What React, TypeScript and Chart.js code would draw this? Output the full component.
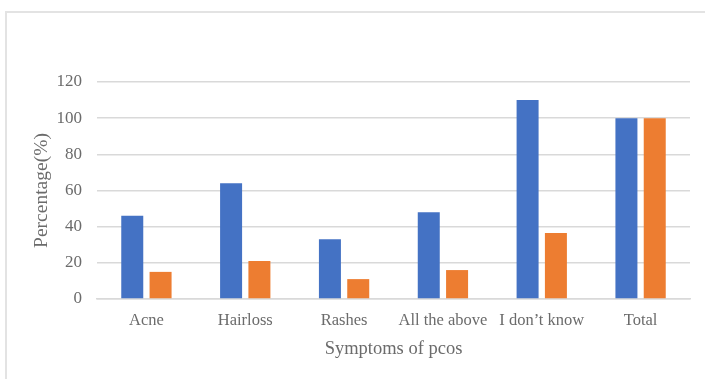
import React, { useEffect, useRef } from "react";
import { Chart, registerables } from "chart.js";

Chart.register(...registerables);

// Symptom categories and the two percentage series
const categories = ["Acne", "Hairloss", "Rashes", "All the above", "I don\u2019t know", "Total"];
const seriesA = [46, 64, 33, 48, 110, 100];
const seriesB = [15, 21, 11, 16, 36.5, 100];
const yTicks = [0, 20, 40, 60, 80, 100, 120];

const TEXT = "#6b6b6b";
const GRID = "#d9d9d9";
const FONT = "'Liberation Serif', 'DejaVu Serif', serif";

export default function App() {
  const ref = useRef<HTMLCanvasElement | null>(null);

  useEffect(() => {
    if (!ref.current) return;
    const chart = new Chart(ref.current, {
      type: "bar",
      data: {
        labels: categories,
        datasets: [
          { data: seriesA, backgroundColor: "#4472C4", categoryPercentage: 0.573, barPercentage: 0.777 },
          { data: seriesB, backgroundColor: "#ED7D31", categoryPercentage: 0.573, barPercentage: 0.777 },
        ],
      },
      options: {
        animation: false,
        responsive: false,
        maintainAspectRatio: false,
        layout: { padding: { left: 30, top: 82, right: 15, bottom: 0 } },
        plugins: { legend: { display: false }, tooltip: { enabled: false } },
        scales: {
          x: {
            grid: { display: false, drawTicks: false },
            border: { display: true, color: GRID, width: 1.5 },
            ticks: { color: TEXT, font: { family: FONT, size: 16.5 }, padding: 12, maxRotation: 0, autoSkip: false },
            title: {
              display: true,
              text: "Symptoms of pcos",
              color: TEXT,
              font: { family: FONT, size: 18.5 },
              padding: { top: 2, bottom: 19 },
            },
            afterFit: (s: any) => {
              s.height = 80;
            },
          },
          y: {
            min: 0,
            max: 120,
            afterBuildTicks: (s: any) => {
              s.ticks = yTicks.map((v) => ({ value: v }));
            },
            grid: { color: GRID, lineWidth: 1.5, drawTicks: false },
            border: { display: false },
            ticks: { color: TEXT, font: { family: FONT, size: 17 }, padding: 15 },
            title: {
              display: true,
              text: "Percentage(%)",
              color: TEXT,
              font: { family: FONT, size: 19.5 },
              padding: 0,
            },
            afterFit: (s: any) => {
              s.width = 67;
            },
          },
        },
      },
    });
    return () => chart.destroy();
  }, []);

  return (
    <div style={{ position: "fixed", left: 0, top: 0, width: 705, height: 379, background: "#fff" }}>
      <div
        style={{
          position: "absolute",
          left: 5,
          top: 11,
          width: 700,
          height: 368,
          borderTop: "2px solid #e3e3e3",
          borderLeft: "2px solid #e3e3e3",
          boxSizing: "border-box",
        }}
      />
      <canvas ref={ref} width={705} height={379} style={{ position: "absolute", left: 0, top: 0 }} />
    </div>
  );
}
